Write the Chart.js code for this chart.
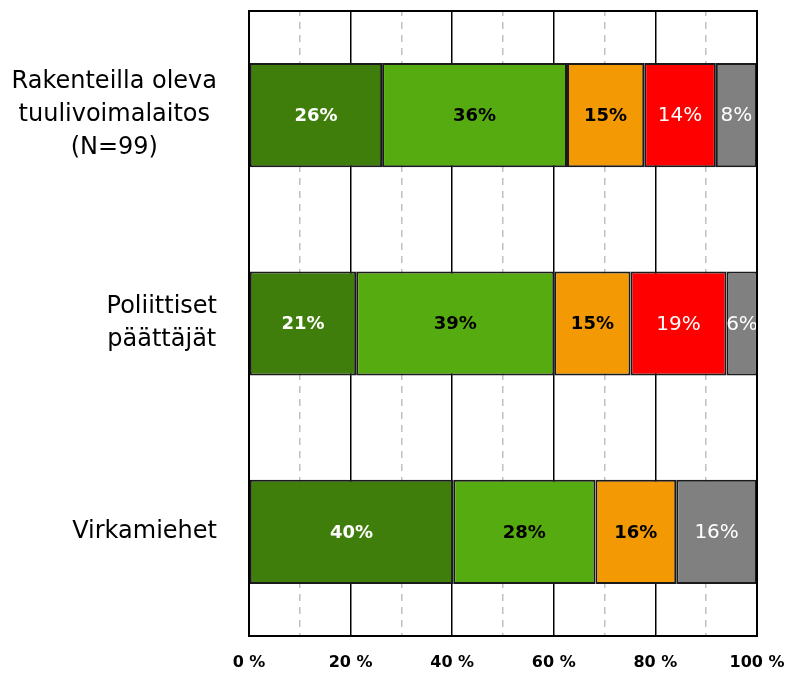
<!DOCTYPE html>
<html>
<head>
<meta charset="utf-8">
<script src="https://cdn.jsdelivr.net/npm/chart.js@4"></script>
<style>
html,body{margin:0;padding:0;background:#fff;}
#wrap{width:789px;height:673px;position:relative;}
</style>
</head>
<body>
<div id="wrap"><canvas id="c"></canvas></div>
<script>
const categories = [["Rakenteilla oleva","tuulivoimalaitos","(N=99)"], ["Poliittiset","päättäjät"], ["Virkamiehet"]];
const seriesNames = ["S1","S2","S3","S4","S5"];
const s1 = [26.2, 21.1, 40.2];
const s2 = [36.4, 39.0, 28.0];
const s3 = [15.2, 15.0, 15.9];
const s4 = [14.1, 18.9, null];
const s5 = [8.1, 6.1, 15.9];
const displayLabels = [["26%","21%","40%"],["36%","39%","28%"],["15%","15%","16%"],["14%","19%",""],["8%","6%","16%"]];
const xTickValues = [0,20,40,60,80,100];

const colors = ["#3F7E0A","#56AB10","#F29904","#FF0000","#808080"];
const labelColors = ["#FFFFFF","#000000","#000000","#FFFFFF","#FFFFFF"];
const labelBold = [true,true,true,false,false];
const FONT = "DejaVu Sans";

const seriesData = [s1,s2,s3,s4,s5];
const datasets = seriesData.map((d,i)=>({
  label: seriesNames[i],
  data: d,
  backgroundColor: colors[i],
  borderColor: "#1a1a1a",
  borderWidth: 2,
  borderSkipped: false,
  barPercentage: 0.5,
  categoryPercentage: 1.0
}));

const labelPlugin = {
  id: 'barLabels',
  afterDatasetsDraw(chart){
    const ctx = chart.ctx;
    chart.data.datasets.forEach((ds,i)=>{
      const meta = chart.getDatasetMeta(i);
      meta.data.forEach((bar,j)=>{
        const txt = displayLabels[i][j];
        if(!txt || ds.data[j]==null) return;
        const x = (bar.x + bar.base)/2;
        ctx.save();
        ctx.fillStyle = labelColors[i];
        ctx.font = (labelBold[i] ? "bold 18px " : "20px ") + FONT;
        ctx.textAlign = "center";
        ctx.textBaseline = "middle";
        ctx.fillText(txt, x, bar.y+1);
        ctx.restore();
      });
    });
  }
};

const framePlugin = {
  id: 'frame',
  afterDatasetsDraw(chart){
    const a = chart.chartArea, ctx = chart.ctx;
    ctx.save();
    ctx.strokeStyle = "#000";
    ctx.lineWidth = 2;
    ctx.strokeRect(a.left, a.top, a.right-a.left, a.bottom-a.top);
    ctx.restore();
  }
};

const catLabelPlugin = {
  id: 'catLabels',
  afterDraw(chart){
    const ctx = chart.ctx;
    const y = chart.scales.y;
    ctx.save();
    ctx.font = "24px " + FONT;
    ctx.fillStyle = "#000";
    ctx.textAlign = "center";
    ctx.textBaseline = "middle";
    const lh = 33;
    const rightEdge = 217;
    categories.forEach((lines,i)=>{
      const cy = y.getPixelForValue(i);
      const w = Math.max(...lines.map(l=>ctx.measureText(l).width));
      const cx = rightEdge - w/2;
      const y0 = cy - (lines.length-1)*lh/2;
      lines.forEach((l,k)=>ctx.fillText(l, cx, y0 + k*lh));
    });
    ctx.restore();
  }
};

new Chart(document.getElementById('c'), {
  type: 'bar',
  data: { labels: categories.map(c=>c.join(' ')), datasets },
  options: {
    indexAxis: 'y',
    responsive: true,
    maintainAspectRatio: false,
    animation: false,
    layout: { padding: { left: 0, right: 32, top: 11, bottom: 0 } },
    plugins: { legend: { display: false }, tooltip: { enabled: false } },
    scales: {
      x: {
        stacked: true,
        min: 0, max: 100,
        ticks: {
          stepSize: 10,
          padding: 17,
          autoSkip: false,
          maxRotation: 0,
          minRotation: 0,
          color: "#000",
          font: { family: FONT, size: 16, weight: "bold" },
          callback: v => xTickValues.includes(v) ? v + " %" : ""
        },
        grid: {
          drawTicks: false,
          color: c => (c.tick && c.tick.value % 20 === 0) ? "#000000" : "#C0C0C0",
          lineWidth: 1.5
        },
        border: {
          display: true,
          color: "#000",
          width: 2,
          dash: c => (c.tick && c.tick.value % 20 !== 0) ? [7,6] : [],
          dashOffset: 2
        },
        afterFit: s => { s.height = 37; s.paddingLeft = 0; s.paddingRight = 0; }
      },
      y: {
        stacked: true,
        ticks: { display: false },
        grid: { display: false },
        border: { display: true, color: "#000", width: 2 },
        afterFit: s => { s.width = 249; }
      }
    }
  },
  plugins: [labelPlugin, framePlugin, catLabelPlugin]
});
</script>
</body>
</html>
